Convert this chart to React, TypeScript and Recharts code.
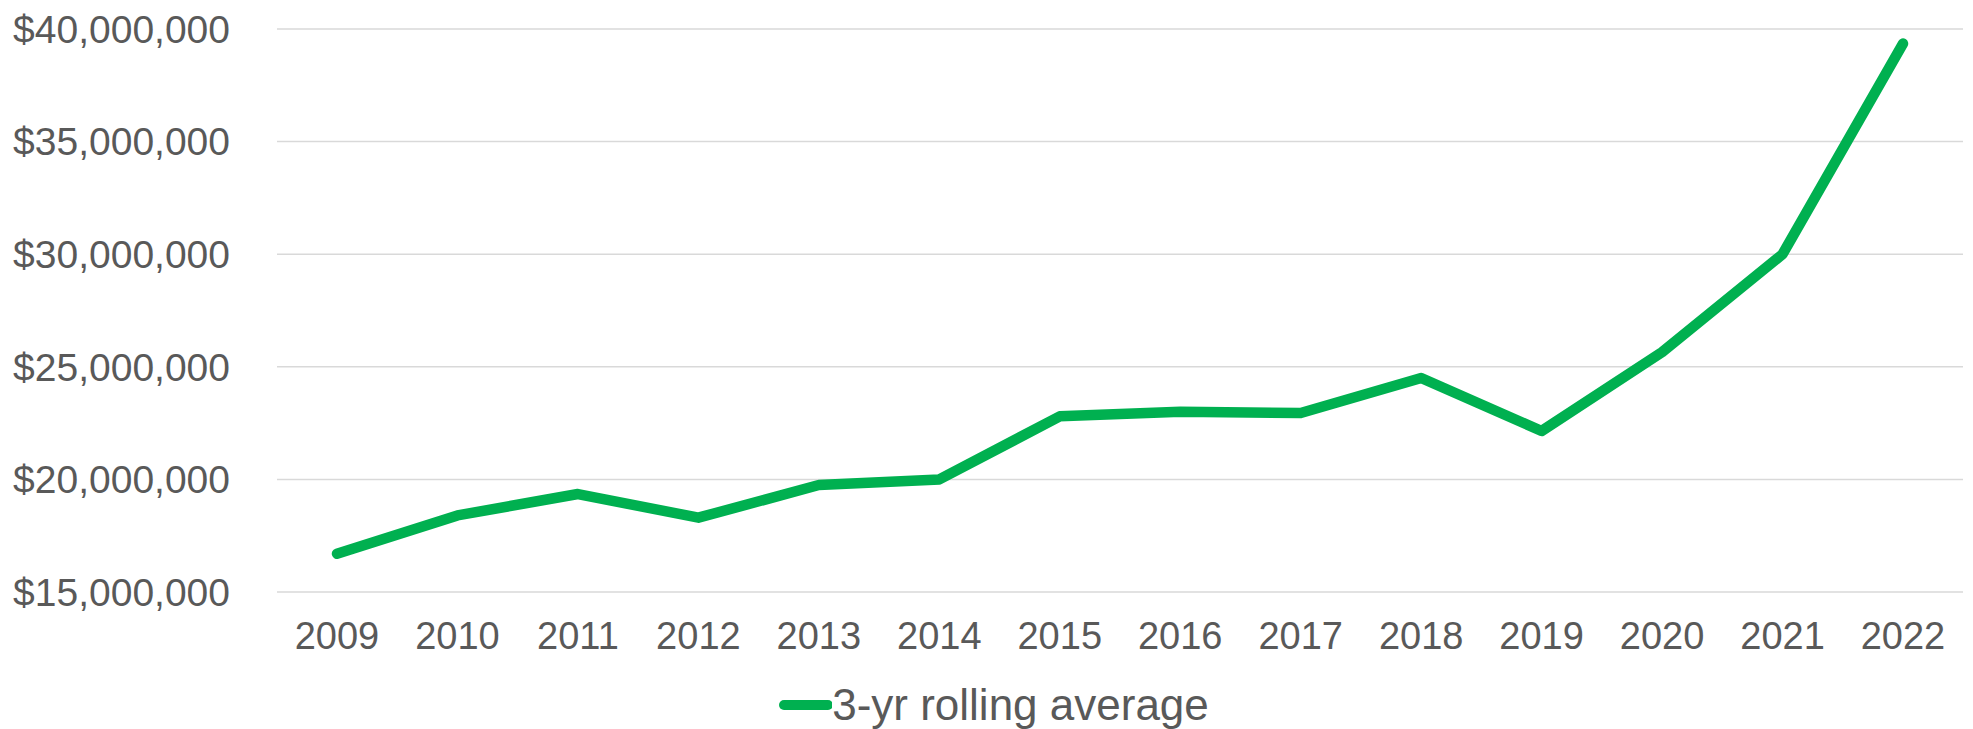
import React from "react";
import { LineChart, Line, XAxis, YAxis, CartesianGrid, Legend } from "recharts";

const years = ["2009", "2010", "2011", "2012", "2013", "2014", "2015", "2016", "2017", "2018", "2019", "2020", "2021", "2022"];
const rollingAverage = [16700000, 18400000, 19350000, 18300000, 19750000, 20000000, 22800000, 23000000, 22950000, 24500000, 22150000, 25650000, 30000000, 39350000];
const yTicks = [15000000, 20000000, 25000000, 30000000, 35000000, 40000000];
const seriesName = "3-yr rolling average";

const data = years.map((y, i) => ({ year: y, value: rollingAverage[i] }));

const FONT = "'Liberation Sans', Arial, sans-serif";
const TEXT = "#595959";
const GREEN = "#00B050";

const fmt = (v: number) => "$" + v.toLocaleString("en-US");

const LegendContent = (props: any) => {
  const items = props.payload || [];
  return (
    <div style={{ display: "flex", justifyContent: "center", alignItems: "center", fontFamily: FONT, paddingLeft: 24 }}>
      {items.map((it: any) => (
        <div key={it.value} style={{ display: "flex", alignItems: "center" }}>
          <svg width={54} height={12} style={{ marginRight: 0 }}>
            <line x1={6} y1={6} x2={50} y2={6} stroke={it.color} strokeWidth={10} strokeLinecap="round" />
          </svg>
          <span style={{ color: TEXT, fontSize: 44, lineHeight: "46px" }}>{it.value}</span>
        </div>
      ))}
    </div>
  );
};

export default function App() {
  return (
    <div style={{ width: 1973, height: 729, background: "#fff" }}>
      <style>{"body{margin:0;}"}</style>
      <LineChart width={1973} height={729} data={data} margin={{ top: 29, right: 10, bottom: 0, left: 0 }}>
        <CartesianGrid horizontal={true} vertical={false} stroke="#D9D9D9" strokeWidth={1.5} />
        <XAxis
          dataKey="year"
          axisLine={false}
          tickLine={false}
          padding={{ left: 60, right: 60 }}
          tick={{ fill: TEXT, fontSize: 38, fontFamily: FONT }}
          tickMargin={24}
          height={90}
          interval={0}
        />
        <YAxis
          domain={[15000000, 40000000]}
          ticks={yTicks}
          axisLine={false}
          tickLine={false}
          width={277}
          tickFormatter={fmt}
          tick={{ fill: TEXT, fontSize: 39, fontFamily: FONT }}
          tickMargin={41}
        />
        <Legend verticalAlign="bottom" content={<LegendContent />} wrapperStyle={{ bottom: 0 }} height={47} />
        <Line
          type="linear"
          dataKey="value"
          name={seriesName}
          stroke={GREEN}
          strokeWidth={10.5}
          strokeLinecap="round"
          strokeLinejoin="round"
          dot={false}
          activeDot={false}
          isAnimationActive={false}
        />
      </LineChart>
    </div>
  );
}
